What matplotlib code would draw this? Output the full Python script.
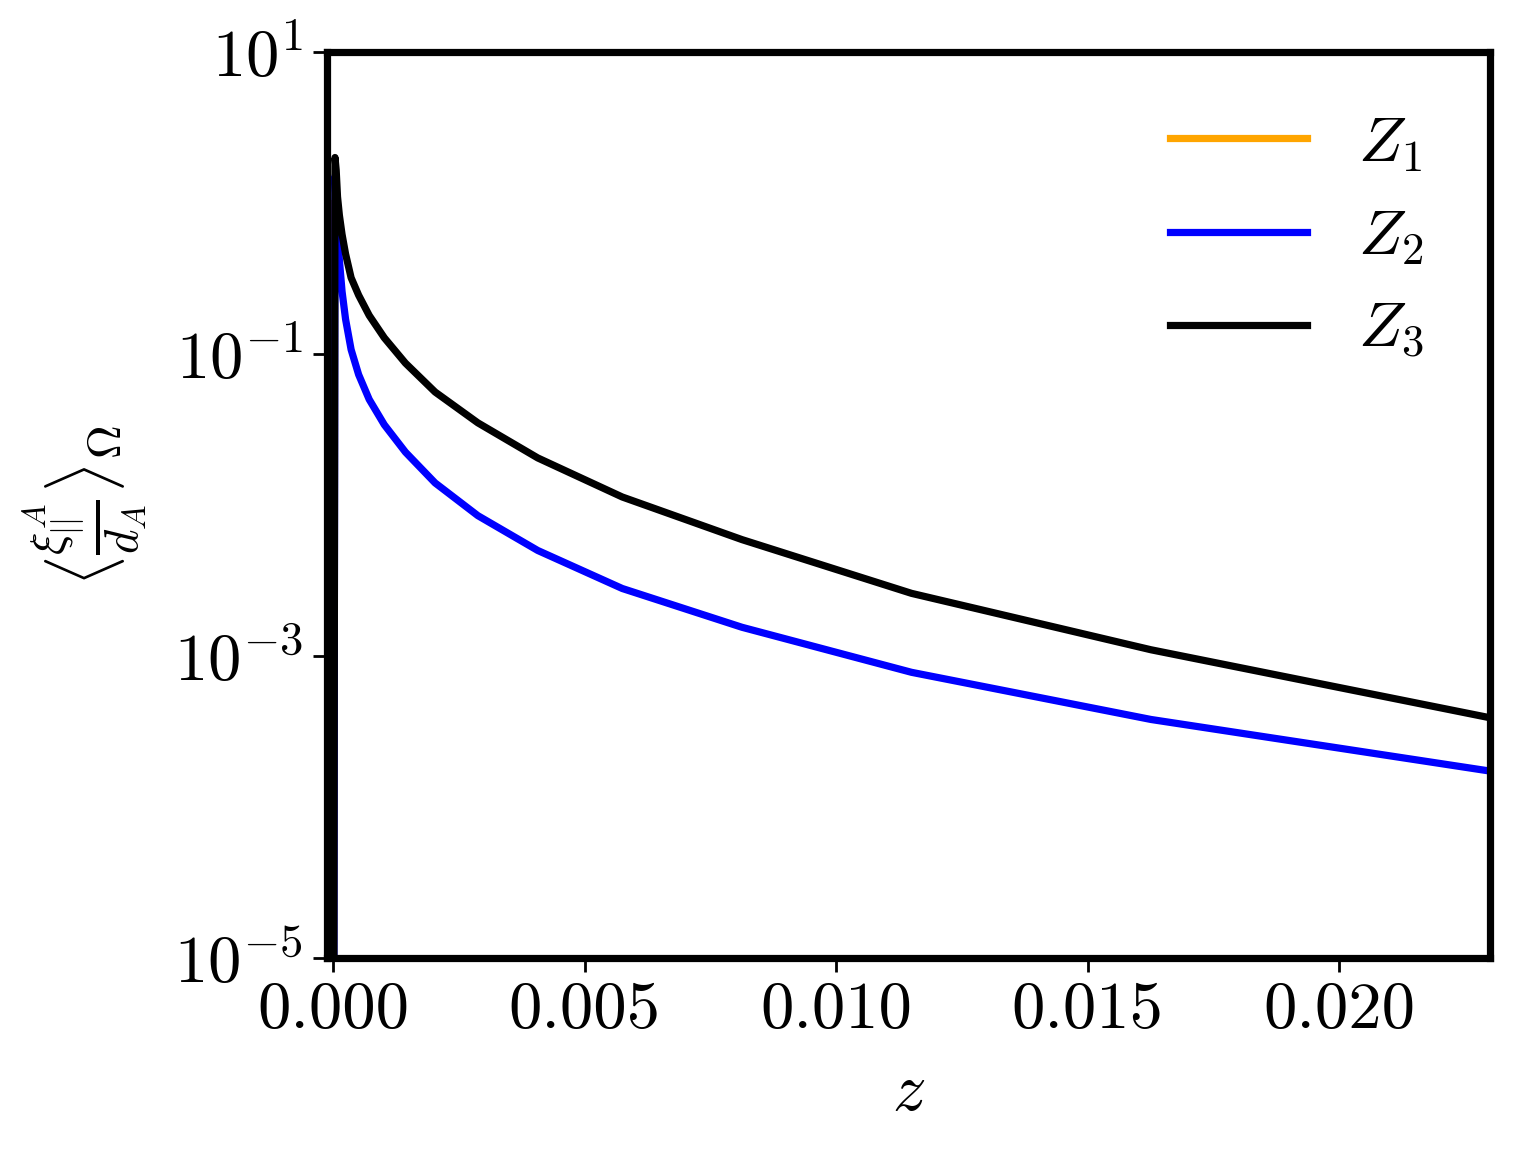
import matplotlib
matplotlib.use("Agg")
import matplotlib.pyplot as plt
from matplotlib.ticker import FixedLocator, NullLocator, LogFormatterSciNotation

plt.rcParams.update({
    "font.family": "serif",
    "font.serif": ["cmr10"],
    "mathtext.fontset": "cm",
    "axes.formatter.use_mathtext": True,
})

# Data
z_knots = [0.0000635, 0.00009, 0.000127, 0.00018, 0.00025, 0.00036, 0.00051,
           0.00072, 0.00102, 0.00144, 0.00203, 0.00288, 0.00407, 0.00575,
           0.00813, 0.0115, 0.01626, 0.023]

z1_z = [0.00001, 0.00001]
z1_vals = [1.0, 1e-7]

z2_z = [0.00001, 0.00004, 0.0000635, 0.00009] + z_knots[2:]
z2_vals = [1e-7, 1.5, 0.9, 0.6, 0.42, 0.26, 0.17, 0.107, 0.073, 0.050, 0.034,
           0.0224, 0.014, 0.0085, 0.0050, 0.0028, 0.00155, 0.00078, 0.00038, 0.000173]

z3_z = [0.00001, 0.00004] + z_knots
z3_vals = [1e-7, 2.0, 1.65, 1.1, 0.83, 0.62, 0.46, 0.32, 0.245, 0.18, 0.128, 0.087,
           0.056, 0.035, 0.0205, 0.0113, 0.0059, 0.0026, 0.0011, 0.00039]

labels = [r"$Z_1$", r"$Z_2$", r"$Z_3$"]
colors = ["orange", "blue", "black"]

fig = plt.figure(figsize=(7.6, 5.8), dpi=200)
ax = fig.add_axes([0.2151, 0.1741, 0.7652, 0.7811])

ax.plot(z1_z, z1_vals, color=colors[0], lw=2.6, label=labels[0])
ax.plot(z2_z, z2_vals, color=colors[1], lw=2.6, label=labels[1])
ax.plot(z3_z, z3_vals, color=colors[2], lw=2.6, label=labels[2])

ax.set_yscale("log")
ax.set_ylim(1e-5, 10)
ax.set_xlim(-0.00012, 0.0230)
ax.yaxis.set_major_locator(FixedLocator([1e-5, 1e-3, 1e-1, 10]))
ax.yaxis.set_major_formatter(LogFormatterSciNotation())
ax.yaxis.set_minor_locator(NullLocator())
ax.set_xticks([0.0, 0.005, 0.010, 0.015, 0.020])
ax.set_xticklabels(["0.000", "0.005", "0.010", "0.015", "0.020"])

for s in ax.spines.values():
    s.set_linewidth(2.6)
ax.tick_params(axis="both", which="major", labelsize=24, length=5, width=1.0)

ax.set_xlabel(r"$z$", fontsize=24, labelpad=8)
ax.set_ylabel(r"$\langle \frac{\xi^A_{||}}{d_A} \rangle_\Omega$", fontsize=24, labelpad=9)

ax.legend(loc="upper right", frameon=False, fontsize=23, handlelength=2.15,
          labelspacing=0.55, handletextpad=0.8, bbox_to_anchor=(0.993, 0.993))

fig.savefig("out.png", dpi=200)
